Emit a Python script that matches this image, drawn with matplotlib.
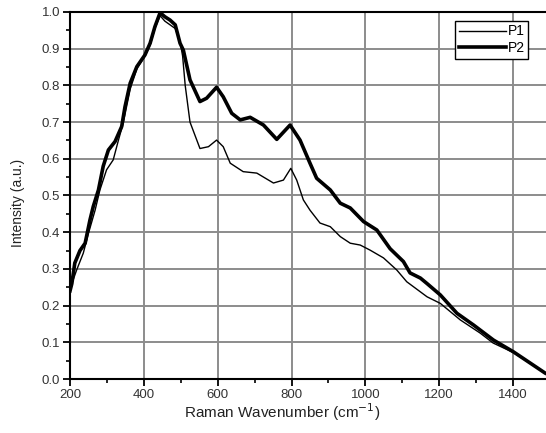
"""Raman spectra P1 / P2 — normalised intensity vs wavenumber."""

import matplotlib

matplotlib.use("Agg")
import matplotlib.pyplot as plt
from matplotlib.ticker import MultipleLocator

# P2 (thick trace)
p2_x = [200, 205, 213, 227, 241, 254, 263, 277, 290, 304, 322, 340, 349, 363,
        381, 403, 417, 430, 444, 457, 471, 485, 498, 507, 525, 552, 570, 597,
        615, 638, 661, 688, 724, 760, 796, 823, 850, 868, 905, 932, 959, 995,
        1031, 1067, 1103, 1121, 1149, 1167, 1203, 1248, 1293, 1347, 1401, 1447,
        1487, 1500]
p2_y = [0.24, 0.26, 0.316, 0.35, 0.37, 0.433, 0.47, 0.515, 0.58, 0.624, 0.647,
        0.688, 0.742, 0.806, 0.851, 0.883, 0.915, 0.96, 0.998, 0.987, 0.978,
        0.965, 0.915, 0.896, 0.815, 0.756, 0.765, 0.795, 0.769, 0.724, 0.706,
        0.713, 0.692, 0.653, 0.692, 0.651, 0.588, 0.547, 0.515, 0.479, 0.466,
        0.429, 0.406, 0.355, 0.32, 0.289, 0.275, 0.26, 0.229, 0.179, 0.147,
        0.106, 0.074, 0.043, 0.016, 0.01]

# P1 (thin trace)
p1_x = [200, 205, 218, 236, 250, 268, 281, 299, 317, 331, 344, 363, 381, 403,
        417, 430, 444, 457, 471, 485, 498, 505, 512, 525, 552, 575, 597, 615,
        634, 669, 706, 751, 778, 798, 814, 832, 850, 877, 905, 932, 959, 986,
        1013, 1049, 1085, 1112, 1167, 1203, 1257, 1311, 1346, 1401, 1447, 1487,
        1500]
p1_y = [0.245, 0.26, 0.297, 0.343, 0.397, 0.46, 0.515, 0.57, 0.597, 0.65,
        0.697, 0.79, 0.845, 0.88, 0.91, 0.955, 0.99, 0.975, 0.965, 0.955, 0.92,
        0.88, 0.80, 0.70, 0.628, 0.633, 0.651, 0.633, 0.588, 0.565, 0.561,
        0.534, 0.542, 0.574, 0.542, 0.488, 0.46, 0.425, 0.415, 0.388, 0.37,
        0.365, 0.351, 0.33, 0.297, 0.265, 0.224, 0.206, 0.161, 0.125, 0.098,
        0.072, 0.042, 0.016, 0.01]

plt.rcParams["font.family"] = ["Liberation Sans", "DejaVu Sans"]

fig = plt.figure(figsize=(5.46, 4.33), dpi=100)
ax = fig.add_axes([70 / 546, 54 / 433, 480 / 546, 367 / 433])

ax.plot(p1_x, p1_y, color="black", lw=1.0, label="P1")
ax.plot(p2_x, p2_y, color="black", lw=2.6, label="P2")

ax.set_xlim(200, 1500)
ax.set_ylim(0, 1.0)
ax.xaxis.set_major_locator(MultipleLocator(200))
ax.xaxis.set_minor_locator(MultipleLocator(100))
ax.yaxis.set_major_locator(MultipleLocator(0.1))
ax.yaxis.set_minor_locator(MultipleLocator(0.05))
ax.yaxis.set_major_formatter(lambda v, pos: f"{v:.1f}")

ax.grid(True, which="major", color="#8c8c8c", lw=1.4)
ax.set_axisbelow(True)
for sp in ax.spines.values():
    sp.set_linewidth(1.5)

ax.tick_params(which="major", direction="out", length=5, width=1.3,
               labelsize=9.5, labelcolor="#333333", pad=2)
ax.tick_params(which="minor", direction="out", length=3, width=1.2)

ax.set_xlabel("Raman Wavenumber (cm$^{-1}$)", fontsize=11, color="#222222")
ax.xaxis.set_label_coords((282 - 70) / 480, -0.062)
ax.set_ylabel("Intensity (a.u.)", fontsize=10, color="#222222")
ax.yaxis.set_label_coords((25 - 70) / 480, 0.48)

leg = ax.legend(loc="upper right", fontsize=10, handlelength=3.4,
                handletextpad=0.1, borderpad=0.25, labelspacing=0.2,
                fancybox=False, framealpha=1, edgecolor="black",
                bbox_to_anchor=(535 / 546, 419 / 433),
                bbox_transform=fig.transFigure)
leg.get_frame().set_linewidth(1.0)

fig.savefig("out.png", dpi=100)
